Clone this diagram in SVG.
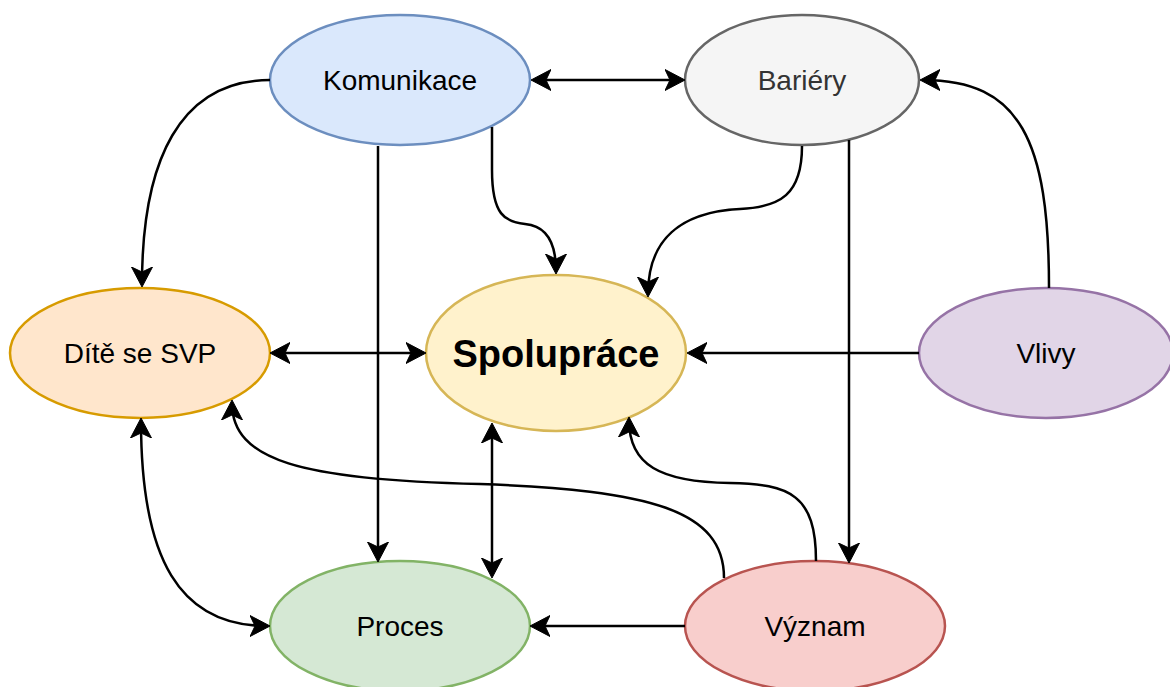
<svg xmlns="http://www.w3.org/2000/svg" width="1170" height="687" viewBox="0 0 1170 687">
<style>
.n{stroke-width:2.5}
.t{font-family:"Liberation Sans",Arial,Helvetica,sans-serif;font-size:28px;text-anchor:middle;fill:#000}
.e{fill:none;stroke:#000;stroke-width:2.5}
.a{marker-end:url(#ah)}
.d{marker-start:url(#ah);marker-end:url(#ah)}
</style>
<defs>
<marker id="ah" markerUnits="userSpaceOnUse" viewBox="0 0 20 22" markerWidth="20" markerHeight="22" refX="17" refY="11" orient="auto-start-reverse">
<path d="M20,11 L0,0.5 L5,11 L0,21.5 Z" fill="#000" stroke="#000" stroke-width="1" stroke-linejoin="miter"/>
</marker>
</defs>
<rect width="1170" height="687" fill="#fff"/>
<g id="komunikace"><ellipse class="n" cx="400" cy="80" rx="130" ry="65" fill="#dae8fc" stroke="#6c8ebf"/><text class="t" x="400" y="90">Komunikace</text></g>
<g id="bariery"><ellipse class="n" cx="802" cy="80" rx="117" ry="65" fill="#f5f5f5" stroke="#666666"/><text class="t" x="802" y="90" style="fill:#333333">Bariéry</text></g>
<g id="dite"><ellipse class="n" cx="140" cy="353" rx="130" ry="65" fill="#ffe6cc" stroke="#d79b00"/><text class="t" x="140" y="363">Dítě se SVP</text></g>
<g id="spoluprace"><ellipse class="n" cx="556" cy="353" rx="130" ry="78" fill="#fff2cc" stroke="#d6b656"/><text class="t" x="556" y="367" style="font-size:38px;font-weight:bold">Spolupráce</text></g>
<g id="vlivy"><ellipse class="n" cx="1046" cy="353" rx="127" ry="65" fill="#e1d5e7" stroke="#9673a6"/><text class="t" x="1046" y="363">Vlivy</text></g>
<g id="proces"><ellipse class="n" cx="400" cy="626" rx="130" ry="65" fill="#d5e8d4" stroke="#82b366"/><text class="t" x="400" y="636">Proces</text></g>
<g id="vyznam"><ellipse class="n" cx="815" cy="626" rx="130" ry="65" fill="#f8cecc" stroke="#b85450"/><text class="t" x="815" y="636">Význam</text></g>
<g id="connectors">
<path class="e d" d="M534,80 L682,80"/>
<path class="e a" d="M270,80 C180,80 142,160 142,284"/>
<path class="e a" d="M378,146 L378,559"/>
<path class="e a" d="M492,127 L492,170 C492,215 505,222 525,224 C548,226 556,245 556,271"/>
<path class="e a" d="M802,146 C802,195 780,207 740,209 C680,212 648,240 648,294"/>
<path class="e a" d="M849,140 L849,560"/>
<path class="e a" d="M1049,288 C1049,140 1020,80 923,80"/>
<path class="e a" d="M919,353 L690,353"/>
<path class="e d" d="M273,353 L423,353"/>
<path class="e d" d="M141,421 C141,560 180,626 267,626"/>
<path class="e d" d="M492,426 L492,575"/>
<path class="e a" d="M724,578 C724,510 650,490 480,484 C300,480 232,460 232,403"/>
<path class="e a" d="M816,561 C816,495 790,484 730,483 C660,482 629,465 629,420"/>
<path class="e a" d="M685,626 L533,626"/>
</g>
</svg>
